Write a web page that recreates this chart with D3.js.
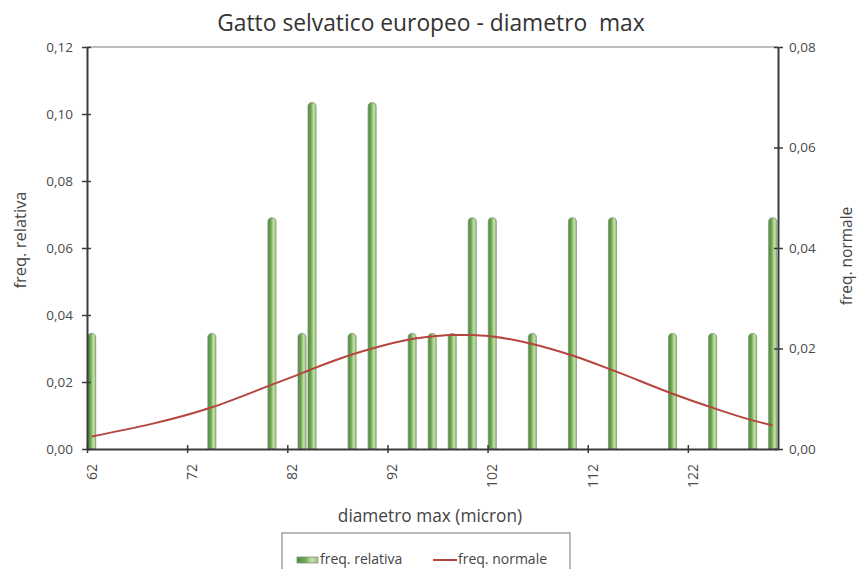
<!DOCTYPE html>
<html><head><meta charset="utf-8">
<script src="https://cdn.jsdelivr.net/npm/d3@7"></script>
<style>
body{margin:0;background:#fff}
text{font-family:"Open Sans",sans-serif}
</style>
</head><body>
<svg id="c" width="858" height="569"></svg>
<script>
// ---- data ----
const diameters = [62,74,80,83,84,88,90,94,96,98,100,102,106,110,114,120,124,128,130];
const freqRelativa = [0.0345,0.0345,0.069,0.0345,0.1034,0.0345,0.1034,0.0345,0.0345,0.0345,0.069,0.069,0.0345,0.069,0.069,0.0345,0.0345,0.0345,0.069];
const freqNormale = [0.0025,0.0083,0.0128,0.0151,0.0159,0.0188,0.0200,0.0219,0.0224,0.0227,0.0227,0.0224,0.0209,0.0186,0.0157,0.0110,0.0082,0.0057,0.0047];
const xTickLabels = [62,72,82,92,102,112,122];
const yLeftTicks = [0,0.02,0.04,0.06,0.08,0.10,0.12];
const yRightTicks = [0,0.02,0.04,0.06,0.08];
const xDomain = [62,131];
const title = "Gatto selvatico europeo - diametro\u00a0 max";
const xTitle = "diametro max (micron)";
const yLeftTitle = "freq. relativa";
const yRightTitle = "freq. normale";
const legendLabels = ["freq. relativa","freq. normale"];

// ---- layout ----
const L = 87, R = 778, T = 47, B = 449;
const svg = d3.select("#c");
const locale = d3.formatLocale({decimal:",", thousands:".", grouping:[3], currency:["","€"]});
const fmt = locale.format(".2f");

const x = d3.scaleLinear().domain(xDomain).range([L,R]);
const yL = d3.scaleLinear().domain([0,0.12]).range([B,T]);
const yR = d3.scaleLinear().domain([0,0.08]).range([B,T]);

const defs = svg.append("defs");
const g = defs.append("linearGradient").attr("id","barG").attr("x1","0").attr("x2","1").attr("y1","0").attr("y2","0");
g.append("stop").attr("offset","0%").attr("stop-color","#4e8a3c");
g.append("stop").attr("offset","35%").attr("stop-color","#6aa550");
g.append("stop").attr("offset","70%").attr("stop-color","#c3e0a3");
g.append("stop").attr("offset","100%").attr("stop-color","#9cc67e");

// top border of plot area
svg.append("line").attr("x1",L).attr("x2",R).attr("y1",T).attr("y2",T)
  .attr("stroke","#bdbdbd").attr("stroke-width",2);

// bars
const barW = 0.8;
const bars = diameters.map((d,i)=>({d, v:freqRelativa[i]}));
svg.append("g").selectAll("path").data(bars).join("path")
  .attr("d", b => {
    const x0 = x(b.d + 0.47 - barW/2), x1 = x(b.d + 0.47 + barW/2);
    const y0 = yL(b.v), y1 = yL(0), r = (x1-x0)/2;
    return `M${x0},${y1}V${y0+r}Q${x0},${y0} ${x0+r},${y0}Q${x1},${y0} ${x1},${y0+r}V${y1}Z`;
  })
  .attr("fill","url(#barG)").attr("stroke","#7f8f78").attr("stroke-width",0.8);

// normal curve
const line = d3.line().x((d,i)=>x(diameters[i]+0.47)).y(d=>yR(d)).curve(d3.curveMonotoneX);
svg.append("path").datum(freqNormale).attr("d",line)
  .attr("fill","none").attr("stroke","#b5453d").attr("stroke-width",2);

// axes
const axisColor = "#3a3a3a", labColor = "#4a4a4a";
const gl = svg.append("g").attr("transform",`translate(${L},0)`)
  .call(d3.axisLeft(yL).tickValues(yLeftTicks).tickFormat(fmt).tickSizeOuter(0).tickPadding(8));
gl.selectAll(".tick line").attr("x1",-5).attr("x2",4);
const gr = svg.append("g").attr("transform",`translate(${R},0)`)
  .call(d3.axisRight(yR).tickValues(yRightTicks).tickFormat(fmt).tickSizeOuter(0).tickPadding(5));
gr.selectAll(".tick line").attr("x1",-4).attr("x2",5);
const gb = svg.append("g").attr("transform",`translate(0,${B})`)
  .call(d3.axisBottom(x).tickValues(xTickLabels).tickFormat("").tickSizeOuter(0));
gb.selectAll(".tick line").attr("y1",-4).attr("y2",4);
[gl,gr,gb].forEach(a=>{
  a.select(".domain").attr("stroke",axisColor).attr("stroke-width",2);
  a.selectAll(".tick line").attr("stroke",axisColor).attr("stroke-width",1.5);
  a.selectAll(".tick text").attr("fill",labColor).style("font-size","13.5px").style("font-family","'Open Sans'");
});

// x tick labels (rotated, centred in category slot)
svg.append("g").selectAll("text").data(xTickLabels).join("text")
  .attr("transform", d => `translate(${x(d+0.5)},${B+15}) rotate(-90)`)
  .attr("text-anchor","end").attr("dy","0.35em")
  .attr("fill",labColor).style("font-size","14px").text(d=>d);

// titles
svg.append("text").attr("x",431).attr("y",31).attr("text-anchor","middle")
  .attr("fill","#333").style("font-size","22.8px").text(title);
svg.append("text").attr("x",430).attr("y",522).attr("text-anchor","middle")
  .attr("fill","#444").style("font-size","17.3px").text(xTitle);
svg.append("text").attr("transform","translate(20,240) rotate(-90)").attr("text-anchor","middle")
  .attr("dy","0.35em").attr("fill","#444").style("font-size","16.5px").text(yLeftTitle);
svg.append("text").attr("transform","translate(847,256) rotate(-90)").attr("text-anchor","middle")
  .attr("dy","0.35em").attr("fill","#444").style("font-size","15.5px").text(yRightTitle);

// legend
const lg = svg.append("g");
lg.append("rect").attr("x",282).attr("y",533).attr("width",288).attr("height",45)
  .attr("fill","#fff").attr("stroke","#8a8a8a").attr("stroke-width",1.2);
lg.append("rect").attr("x",297).attr("y",557).attr("width",21).attr("height",6)
  .attr("fill","url(#barG)").attr("stroke","#7f8f78").attr("stroke-width",0.8);
lg.append("text").attr("x",320).attr("y",564).attr("fill","#444").style("font-size","14px").text(legendLabels[0]);
lg.append("line").attr("x1",433).attr("x2",457).attr("y1",560).attr("y2",560)
  .attr("stroke","#b5453d").attr("stroke-width",2);
lg.append("text").attr("x",458).attr("y",564).attr("fill","#444").style("font-size","14px").text(legendLabels[1]);
</script>
</body></html>
